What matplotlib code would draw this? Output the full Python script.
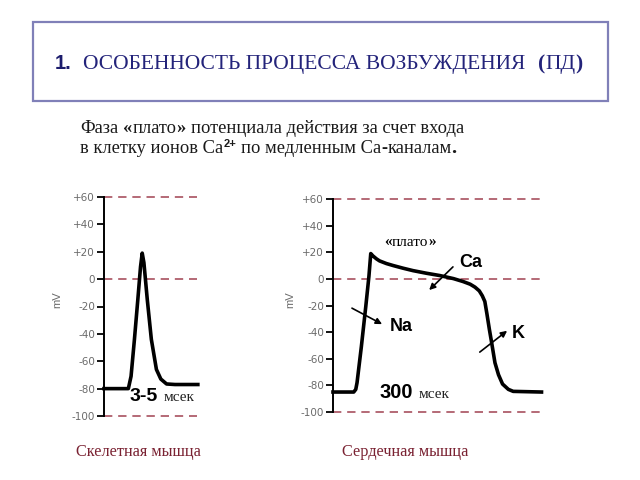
import matplotlib
matplotlib.use('Agg')
import matplotlib.pyplot as plt
from matplotlib.patches import Rectangle

# skeletal muscle action potential (ms, mV)
skel_t = [0, 2.88, 3.2, 3.6, 4.0, 4.32, 4.52, 4.72, 5.12, 5.6, 6.2, 6.72, 7.4, 8.4, 11.1]
skel_v = [-80, -80, -71, -44, -15, 9, 19, 12, -15, -44, -66, -73, -76.6, -77, -77]

# cardiac muscle action potential (ms, mV)
card_t = [0, 41, 45, 47.5, 56, 64.7, 71, 74.6, 79, 86, 92, 105.6, 119, 138.6, 158, 185, 211,
          238, 257, 271, 280.5, 289, 295, 300, 304, 309, 313.5, 320, 327, 335, 346.5, 356, 412]
card_v = [-85, -85, -83, -78, -51, -21, 2, 19, 17.2, 15, 13.5, 11.5, 10, 8, 6.2, 4.2, 2.5,
          0.2, -2, -4, -6.2, -9, -12.7, -17, -26, -38, -48, -63, -72, -79, -83, -84.5, -85]

y_ticks = [60, 40, 20, 0, -20, -40, -60, -80, -100]
y_labels = ['+60', '+40', '+20', '0', '-20', '-40', '-60', '-80', '-100']
dash_levels = [60, 0, -100]

NAVY = '#23237a'
DASH = '#a8505f'
GRAY = '#6a6a6a'
MAROON = '#7a2232'
SERIF = 'Liberation Serif'
SANS = 'Liberation Sans'

W, H = 640, 480
fig = plt.figure(figsize=(6.4, 4.8), dpi=100)
renderer = fig.canvas.get_renderer()


def run(x, y, pieces):
    # place text pieces one after another on a common baseline (pixel coords, y from top)
    for text, kw, gap, dy in pieces:
        x += gap
        t = fig.text(x / W, 1 - (y - dy) / H, text, ha='left', va='baseline', **kw)
        x = t.get_window_extent(renderer=renderer).x1
    return x


# title box
fig.add_artist(Rectangle((33 / W, 1 - 101 / H), 575 / W, 79 / H, transform=fig.transFigure,
                         fill=False, ec='#8080b8', lw=1.6))
t_bold = dict(family=SANS, weight='bold', size=14.5, color='#1c1c6c')
t_norm = dict(family=SERIF, size=15.5, color=NAVY)
run(55, 69, [('1.', t_bold, 0, 0)])
run(83, 69, [('ОСОБЕННОСТЬ ПРОЦЕССА ВОЗБУЖДЕНИЯ', t_norm, 0, 0)])
run(538, 69, [('(', dict(t_norm, weight='bold'), 0, 0), ('ПД', t_norm, 0, 0),
              (')', dict(t_norm, weight='bold'), 0, 0)])

# subtitle
s_norm = dict(family=SERIF, size=13.3, color='#1a1a1a')
s_bold = dict(s_norm, weight='bold')
run(80, 133, [('Фаза', s_norm, 0, 0), ('«', s_bold, 5, 0), ('плато', s_norm, 0, 0),
              ('»', s_bold, 0, 0), ('потенциала действия за счет входа', s_norm, 5, 0)])
run(80, 153, [('в клетку ионов Ca', s_norm, 0, 0),
              ('2+', dict(family=SANS, weight='bold', size=8, color='#1a1a1a'), 0, 6),
              ('по медленным Ca', s_norm, 5, 0), ('-', s_bold, 0, 0), ('каналам', s_norm, 0, 0),
              ('.', dict(s_bold, size=15), 0, 0)])


def setup_axes(rect, xmax, label_xy):
    ax = fig.add_axes(rect)
    ax.set_xlim(0, xmax)
    ax.set_ylim(-100, 60)
    for side in ['top', 'right', 'bottom']:
        ax.spines[side].set_visible(False)
    ax.spines['left'].set_linewidth(1.4)
    ax.set_xticks([])
    ax.set_yticks(y_ticks)
    ax.set_yticklabels(y_labels)
    ax.tick_params(axis='y', direction='out', length=5, width=1.3, labelsize=7.5,
                   labelcolor=GRAY, pad=1.5)
    for lvl in dash_levels:
        ax.axhline(lvl, color=DASH, lw=1.2, ls=(0, (5, 3.5)), clip_on=False, zorder=1)
    ax.set_ylabel('mV', color=GRAY, fontsize=8, family=SANS)
    ax.yaxis.set_label_coords(*label_xy)
    ax.patch.set_alpha(0)
    return ax


ax1 = setup_axes([104 / W, 1 - 416 / H, 93 / W, 219 / H], 11, (-0.45, 0.53))
ax1.plot(skel_t, skel_v, color='black', lw=2.6, clip_on=False, solid_joinstyle='round', zorder=3)

ax2 = setup_axes([333 / W, 1 - 412 / H, 207 / W, 213 / H], 409, (-0.184, 0.526))
ax2.plot(card_t, card_v, color='black', lw=2.6, clip_on=False, solid_joinstyle='round', zorder=3)

arrow = dict(arrowstyle='-|>', color='black', lw=1.2, mutation_scale=9, shrinkA=0, shrinkB=0)
ax2.annotate('', xy=(190, -8.4), xytext=(237, 9), arrowprops=arrow)
ax2.annotate('', xy=(97, -34), xytext=(37.5, -22), arrowprops=arrow)
ax2.annotate('', xy=(344, -39), xytext=(290, -55), arrowprops=arrow)

ion = dict(family=SANS, weight='bold', size=13, ha='center', va='center', color='black')
ax2.text(273, 12, 'Ca', **ion)
ax2.text(134, -36, 'Na', **ion)
ax2.text(367, -40.7, 'K', **ion)

p_norm = dict(family=SERIF, size=11, color='black')
run(384, 246, [('«', dict(p_norm, weight='bold'), 0, 0), ('плато', p_norm, 0, 0),
               ('»', dict(p_norm, weight='bold'), 0, 0)])

ms = dict(family=SERIF, size=11, color='#222222')
run(130, 401, [('3-5', dict(family=SANS, weight='bold', size=14, color='black'), 0, 0),
               ('мсек', ms, 5, 0)])
run(380, 398, [('300', dict(family=SANS, weight='bold', size=14.5, color='black'), 0, 0),
               ('мсек', ms, 5, 0)])

# captions
cap = dict(family=SERIF, size=11.7, color=MAROON, ha='center', va='center')
fig.text(138 / W, 1 - 452 / H, 'Скелетная мышца', **cap)
fig.text(405 / W, 1 - 452 / H, 'Сердечная мышца', **cap)

fig.savefig('out.png', dpi=100)
